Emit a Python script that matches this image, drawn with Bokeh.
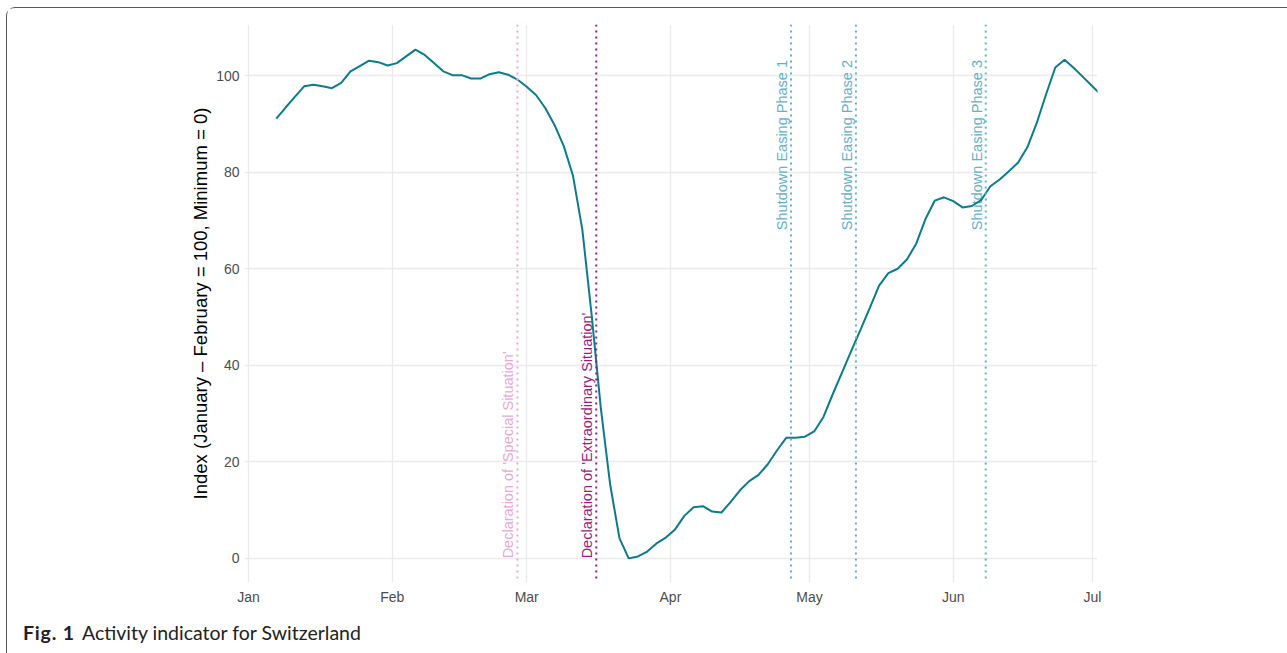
import numpy as np
import pandas as pd
from datetime import datetime
from bokeh.plotting import figure
from bokeh.layouts import column
from bokeh.models import (Range1d, Span, Div, DatetimeTickFormatter, MonthsTicker,
                          FixedTicker, ColumnDataSource)
from bokeh.core.properties import value
from bokeh.embed import file_html
from bokeh.resources import INLINE

# ---------------- data ----------------
start_date = "2020-01-07"          # first observation, then every 2 days
index_values = [
    91.1, 93.4, 95.6, 97.8, 98.1, 97.8, 97.4, 98.5, 100.9, 102.0,
    103.1, 102.8, 102.1, 102.6, 104.0, 105.4, 104.3, 102.6, 100.9, 100.1,
    100.1, 99.4, 99.4, 100.3, 100.7, 100.2, 99.2, 97.7, 96.0, 93.3,
    89.8, 85.4, 79.2, 68.1, 50.5, 31.0, 15.3, 4.2, 0.0, 0.4,
    1.4, 3.1, 4.3, 6.0, 8.8, 10.6, 10.8, 9.7, 9.5, 11.7,
    14.1, 16.0, 17.3, 19.5, 22.4, 25.0, 25.0, 25.2, 26.3, 29.3,
    34.0, 38.5, 43.0, 47.4, 51.9, 56.5, 59.1, 60.0, 61.9, 65.2,
    70.3, 74.1, 74.8, 74.0, 72.7, 73.0, 74.2, 77.1, 78.5, 80.2,
    82.0, 85.2, 90.2, 96.1, 101.7, 103.3, 101.6, 99.7, 97.8, 95.9,
]
dates = pd.date_range(start_date, periods=len(index_values), freq="2D")

event_dates = ["2020-02-28", "2020-03-16", "2020-04-27", "2020-05-11", "2020-06-08"]
event_labels = ["Declaration of 'Special Situation'",
                "Declaration of 'Extraordinary Situation'",
                "Shutdown Easing Phase 1",
                "Shutdown Easing Phase 2",
                "Shutdown Easing Phase 3"]
event_colors = ["#e9a9d6", "#9d1b7b", "#62b2ca", "#62b2ca", "#62b2ca"]
event_label_y = [0, 0, 68, 68, 68]

y_ticks = [0, 20, 40, 60, 80, 100]
axis_title = "Index (January \u2013 February = 100, Minimum = 0)"
caption_bold = "Fig. 1"
caption_text = "Activity indicator for Switzerland"

# ---------------- figure ----------------
FONT = "Liberation Sans"
p = figure(width=1279, height=614, x_axis_type="datetime",
           x_range=Range1d(datetime(2019, 12, 31, 3, 20), datetime(2020, 7, 2, 2, 30)),
           y_range=Range1d(-5.0, 110.6),
           output_backend="svg", toolbar_location=None,
           min_border_left=237, min_border_right=189,
           min_border_top=16, min_border_bottom=40)
p.outline_line_color = None
p.background_fill_color = "white"
p.border_fill_color = "white"

month_ticker = MonthsTicker(months=list(range(12)))
p.xaxis.ticker = month_ticker
p.xaxis.formatter = DatetimeTickFormatter(months="%b", days="%b", years="%b")
p.xgrid.ticker = month_ticker
p.yaxis.ticker = FixedTicker(ticks=y_ticks)
p.ygrid.ticker = FixedTicker(ticks=y_ticks)

for g in (p.xgrid[0], p.ygrid[0]):
    g.grid_line_color = "#ebebeb"
    g.grid_line_width = 1.3
    g.minor_grid_line_color = None

for ax in (p.xaxis[0], p.yaxis[0]):
    ax.axis_line_color = None
    ax.major_tick_line_color = None
    ax.minor_tick_line_color = None
    ax.major_tick_out = 0
    ax.major_tick_in = 0
    ax.major_label_text_font = FONT
    ax.major_label_text_font_size = "14px"
    ax.major_label_text_color = "#4d4d4d"

p.xaxis.major_label_standoff = 6
p.yaxis.major_label_standoff = 5
p.yaxis.axis_label = axis_title
p.yaxis.axis_label_text_font = FONT
p.yaxis.axis_label_text_font_style = "normal"
p.yaxis.axis_label_text_font_size = "18.5px"
p.yaxis.axis_label_text_color = "#000000"
p.yaxis.axis_label_standoff = 2

# event lines
for d, c in zip(event_dates, event_colors):
    p.add_layout(Span(location=pd.Timestamp(d).to_pydatetime(), dimension="height",
                      line_color=c, line_width=2, line_dash="2 4"))

src_ev = ColumnDataSource(dict(x=pd.to_datetime(event_dates), y=event_label_y,
                               text=event_labels, color=event_colors))
p.text(x="x", y="y", text="text", source=src_ev, angle=np.pi / 2,
       text_align="left", text_baseline="bottom", text_color="color",
       text_font=value(FONT), text_font_size="14.5px", x_offset=-1, y_offset=0)

# main series
p.line(dates, index_values, line_color="#0b7b8e", line_width=2)

# caption below the chart
caption = Div(
    text=(f'<span style="font-weight:bold;display:inline-block;width:59px;'
          f'letter-spacing:0.8px">{caption_bold}</span>'
          f'<span>{caption_text}</span>'),
    width=1279, height=30,
    styles={"font-family": "Lato", "font-size": "19.5px", "color": "#222222",
            "padding-left": "11px", "line-height": "22px", "margin-top": "0px"})

layout = column(p, caption,
                styles={"border-top": "1.5px solid #555555",
                        "border-left": "1.5px solid #555555",
                        "border-top-left-radius": "9px",
                        "margin-left": "6px", "margin-top": "7px"})

open("out.html", "w").write(file_html(layout, INLINE))
